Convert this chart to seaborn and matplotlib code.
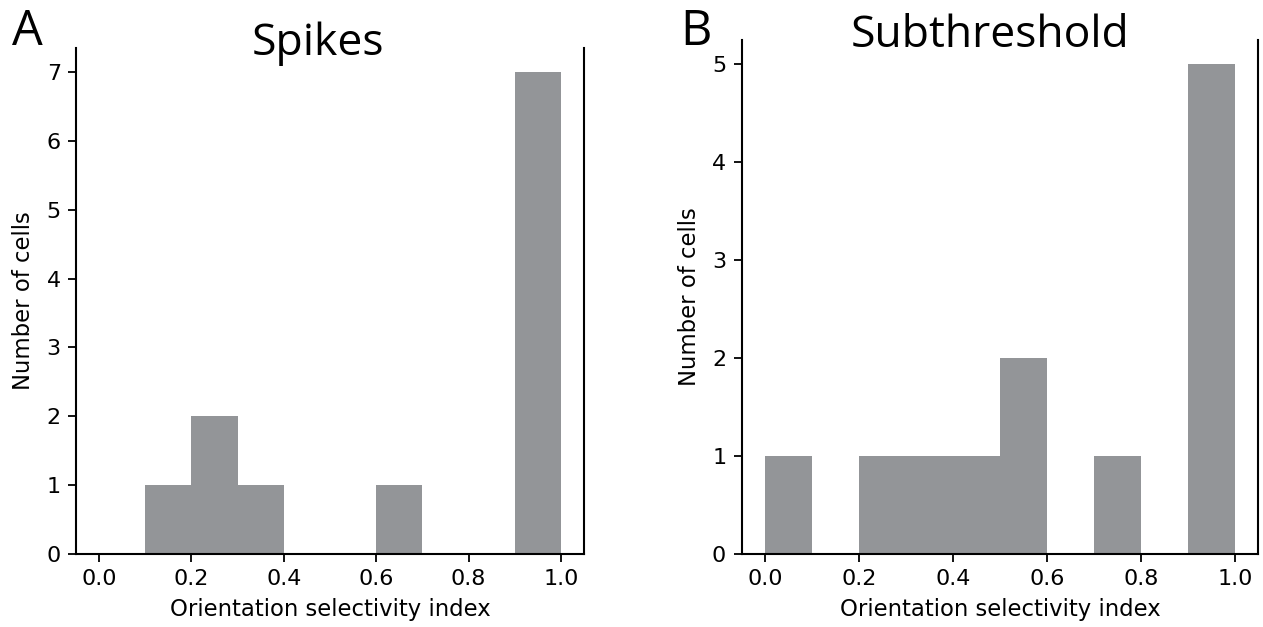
import numpy as np
import matplotlib
matplotlib.use("Agg")
import matplotlib.pyplot as plt
import seaborn as sns

# Histogram bins for the orientation selectivity index
bin_edges = [0.0, 0.1, 0.2, 0.3, 0.4, 0.5, 0.6, 0.7, 0.8, 0.9, 1.0]
spike_counts = [0, 1, 2, 1, 0, 0, 1, 0, 0, 7]
subthreshold_counts = [1, 0, 1, 1, 1, 2, 0, 1, 0, 5]
panel_titles = ["Spikes", "Subthreshold"]
panel_letters = ["A", "B"]
x_ticks = [0.0, 0.2, 0.4, 0.6, 0.8, 1.0]

sns.set_style("ticks")
plt.rcParams["font.family"] = ["DejaVu Sans"]
plt.rcParams["text.color"] = "black"
plt.rcParams["axes.labelcolor"] = "black"
plt.rcParams["xtick.color"] = "black"
plt.rcParams["ytick.color"] = "black"

bar_color = "#939598"

fig = plt.figure(figsize=(12.63, 6.27), dpi=100)
ax_a = fig.add_axes([0.0602, 0.1164, 0.4022, 0.807])
ax_b = fig.add_axes([0.5871, 0.1164, 0.4093, 0.8206])

centers = [(bin_edges[i] + bin_edges[i + 1]) / 2 for i in range(len(bin_edges) - 1)]

for ax, counts in zip([ax_a, ax_b], [spike_counts, subthreshold_counts]):
    sns.histplot(x=centers, weights=counts, bins=bin_edges, stat="count",
                 color=bar_color, linewidth=0, alpha=1.0, ax=ax)
    ymax = max(counts)
    ax.set_xlim(-0.05, 1.05)
    ax.set_ylim(0, ymax * 1.05)
    ax.set_xticks(x_ticks)
    ax.set_xticklabels([f"{t:.1f}" for t in x_ticks])
    ax.set_yticks(range(0, ymax + 1))
    ax.set_xlabel("Orientation selectivity index", fontsize=16.4, labelpad=6,
                  color="black")
    ax.set_ylabel("Number of cells", fontsize=16.4, labelpad=8, color="black")
    ax.tick_params(axis="both", labelsize=16, length=6, width=1.3,
                   direction="out", color="black", labelcolor="black", pad=5)
    ax.spines["top"].set_visible(False)
    for side in ["left", "right", "bottom"]:
        ax.spines[side].set_visible(True)
        ax.spines[side].set_linewidth(1.5)
        ax.spines[side].set_color("black")
    ax.grid(False)

title_font = ["Open Sans", "DejaVu Sans"]
fig.text(318 / 1263, 1 - 55 / 627, panel_titles[0], ha="center", va="baseline",
         fontsize=32, family=title_font, color="black")
fig.text(990 / 1263, 1 - 47 / 627, panel_titles[1], ha="center", va="baseline",
         fontsize=32, family=title_font, color="black")
fig.text(12 / 1263, 1 - 45 / 627, panel_letters[0], ha="left", va="baseline",
         fontsize=35, family=title_font, color="black")
fig.text(680 / 1263, 1 - 45 / 627, panel_letters[1], ha="left", va="baseline",
         fontsize=35, family=title_font, color="black")

fig.savefig("out.png", dpi=100, facecolor="white")
